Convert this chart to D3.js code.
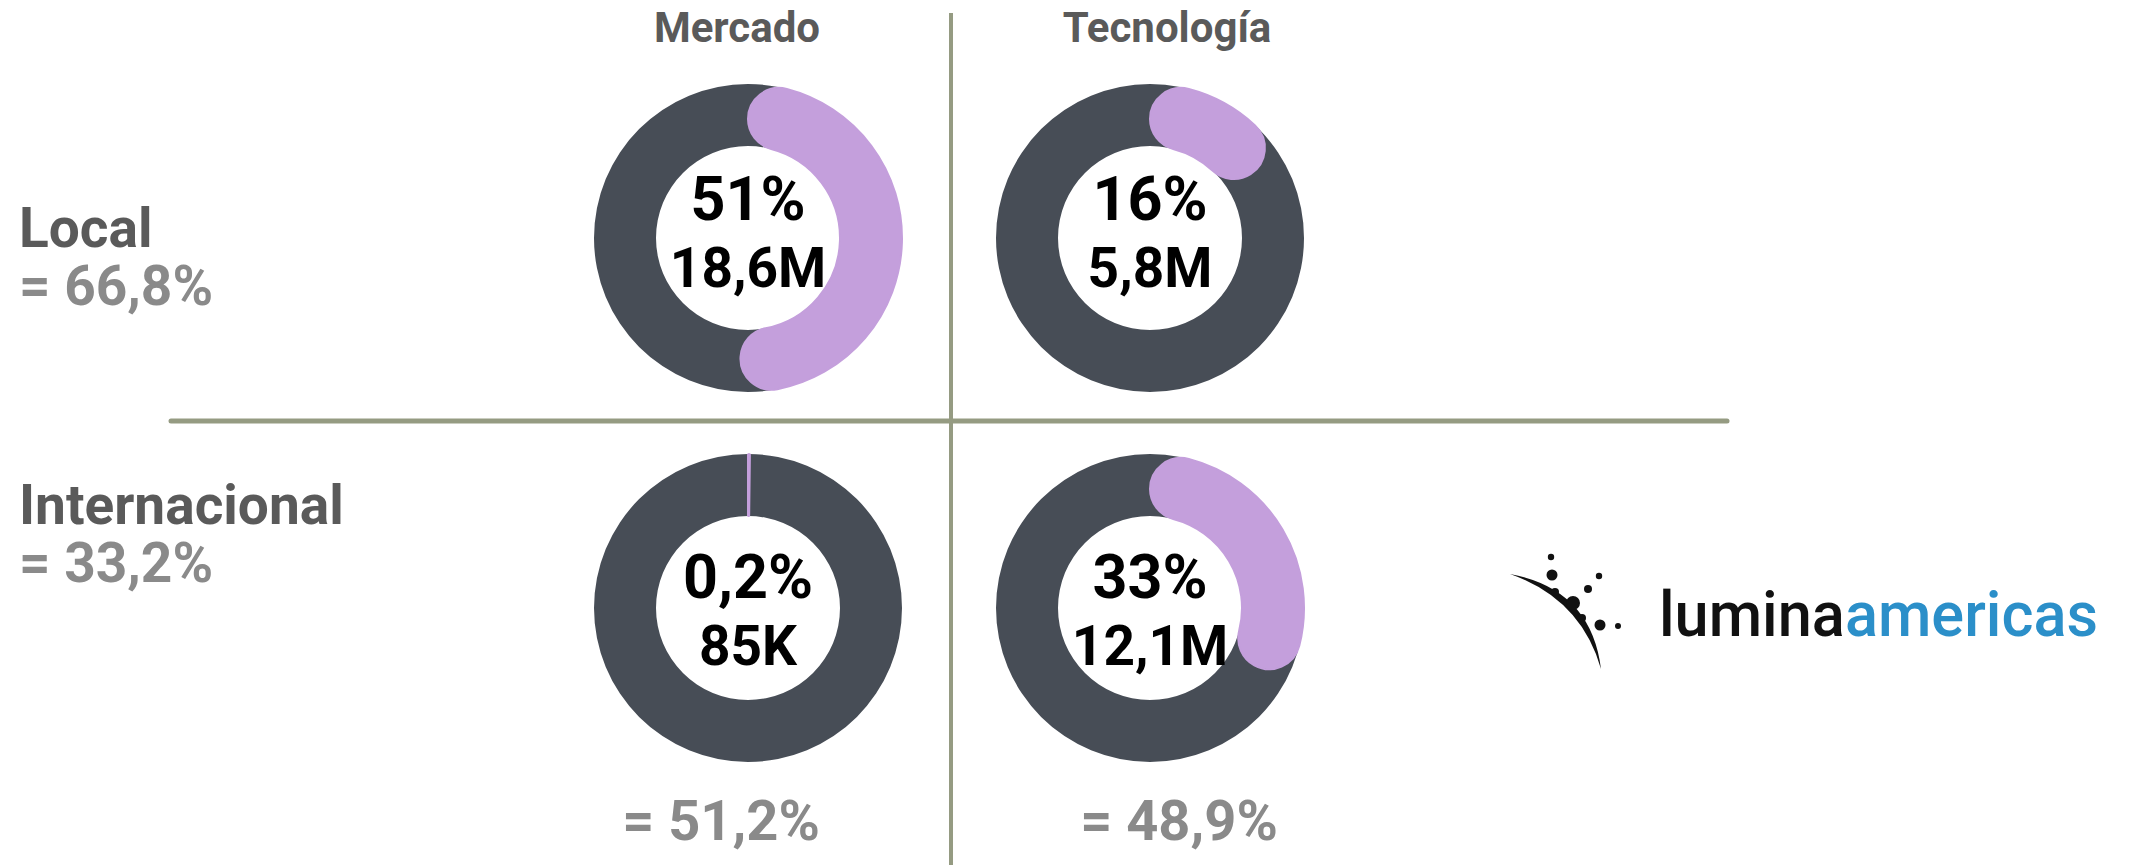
<!DOCTYPE html>
<html>
<head>
<meta charset="utf-8">
<script src="https://cdn.jsdelivr.net/npm/d3@7"></script>
<style>
  html, body { margin: 0; padding: 0; background: #fff; }
  svg { display: block; font-family: Roboto, "Noto Sans", sans-serif; }
</style>
</head>
<body>
<svg id="chart" width="2129" height="865"></svg>
<script>
// ---- data ----
const columns = ["Mercado", "Tecnología"];
const columnTotals = ["= 51,2%", "= 48,9%"];
const rows = ["Local", "Internacional"];
const rowTotals = ["= 66,8%", "= 33,2%"];
// share (%) of each cell, row-major: Local/Mercado, Local/Tecnología, Internacional/Mercado, Internacional/Tecnología
const shares = [51, 16, 0.2, 33];
const shareLabels = ["51%", "16%", "0,2%", "33%"];
const amountLabels = ["18,6M", "5,8M", "85K", "12,1M"];

// ---- layout ----
const svg = d3.select("#chart");
const W = 2129, H = 865;
const x = d3.scalePoint().domain(columns).range([748, 1150]);
const y = d3.scalePoint().domain(rows).range([238, 608]);
const angle = d3.scaleLinear().domain([0, 100]).range([0, 2 * Math.PI]);

const rOuter = 154, rInner = 92;
const ringArc = d3.arc().innerRadius(rInner).outerRadius(rOuter);
const valueArc = d3.arc().innerRadius(rInner).outerRadius(rOuter).cornerRadius((rOuter - rInner) / 2);

const cells = [];
rows.forEach((r, i) => columns.forEach((c, j) => {
  const k = i * columns.length + j;
  cells.push({ row: r, col: c, share: shares[k], pct: shareLabels[k], amount: amountLabels[k], ri: i });
}));

// separator lines
svg.append("line")
  .attr("x1", 951).attr("x2", 951).attr("y1", 13).attr("y2", H)
  .attr("stroke", "#959b82").attr("stroke-width", 4);
svg.append("line")
  .attr("x1", 171).attr("x2", 1727).attr("y1", 421).attr("y2", 421)
  .attr("stroke", "#959b82").attr("stroke-width", 5).attr("stroke-linecap", "round");

// column titles
const titleX = { "Mercado": 737, "Tecnología": 1167 };
svg.selectAll("text.col").data(columns).join("text")
  .attr("class", "col")
  .attr("x", d => titleX[d]).attr("y", 42)
  .attr("text-anchor", "middle")
  .attr("font-size", 42).attr("font-weight", 700).attr("fill", "#5a5a5a")
  .text(d => d);

// column totals
const colTotX = { "Mercado": 721, "Tecnología": 1179 };
svg.selectAll("text.coltot").data(columns).join("text")
  .attr("class", "coltot")
  .attr("x", d => colTotX[d]).attr("y", 840)
  .attr("text-anchor", "middle")
  .attr("font-size", 56).attr("font-weight", 700).attr("fill", "#8a8a8a")
  .text((d, i) => columnTotals[i]);

// row labels
const rowLabY = { "Local": 247, "Internacional": 524 };
svg.selectAll("text.row").data(rows).join("text")
  .attr("class", "row")
  .attr("x", 19).attr("y", d => rowLabY[d])
  .attr("font-size", 55).attr("font-weight", 700).attr("fill", "#5a5a5a")
  .text(d => d);
svg.selectAll("text.rowtot").data(rows).join("text")
  .attr("class", "rowtot")
  .attr("x", 19).attr("y", d => rowLabY[d] + 58)
  .attr("font-size", 55).attr("font-weight", 700).attr("fill", "#8a8a8a")
  .text((d, i) => rowTotals[i]);

// donuts
const g = svg.selectAll("g.cell").data(cells).join("g")
  .attr("class", "cell")
  .attr("transform", d => `translate(${x(d.col)},${y(d.row)})`);

g.append("path")
  .attr("d", ringArc({ startAngle: 0, endAngle: 2 * Math.PI }))
  .attr("fill", "#474d56");
g.append("path")
  .attr("d", d => valueArc({ startAngle: 0, endAngle: angle(d.share) }))
  .attr("fill", "#c49fdc")
  .attr("stroke", "#c49fdc").attr("stroke-width", 2);

const lineOff = [[-18, 49], [-10, 57]];
g.append("text")
  .attr("text-anchor", "middle")
  .attr("y", d => lineOff[d.ri][0])
  .attr("font-size", 61).attr("font-weight", 700).attr("fill", "#000")
  .text(d => d.pct);
g.append("text")
  .attr("text-anchor", "middle")
  .attr("y", d => lineOff[d.ri][1])
  .attr("font-size", 55).attr("font-weight", 700).attr("fill", "#000")
  .text(d => d.amount);

// logo
const logo = svg.append("g").attr("class", "logo");
logo.append("path")
  .attr("d", "M1510,574 Q1591,589 1601,669 Q1581,599 1510,574 Z")
  .attr("fill", "#111");
const dots = [[1551,557,3.2],[1552,575,5.5],[1599,576,3.2],[1588,589,4],[1555,592,4],[1573,603,7],[1582,618,4],[1600,625,5.5],[1618,626,3]];
logo.selectAll("circle").data(dots).join("circle")
  .attr("cx", d => d[0]).attr("cy", d => d[1]).attr("r", d => d[2]).attr("fill", "#111");
const logoText = logo.append("text")
  .attr("x", 1659).attr("y", 636)
  .attr("font-size", 63).attr("font-weight", 500).attr("font-family", "Roboto, sans-serif")
  .attr("textLength", 439).attr("lengthAdjust", "spacingAndGlyphs");
logoText.append("tspan").attr("fill", "#111").text("lumina");
logoText.append("tspan").attr("fill", "#2b8fc9").text("americas");
</script>
</body>
</html>
